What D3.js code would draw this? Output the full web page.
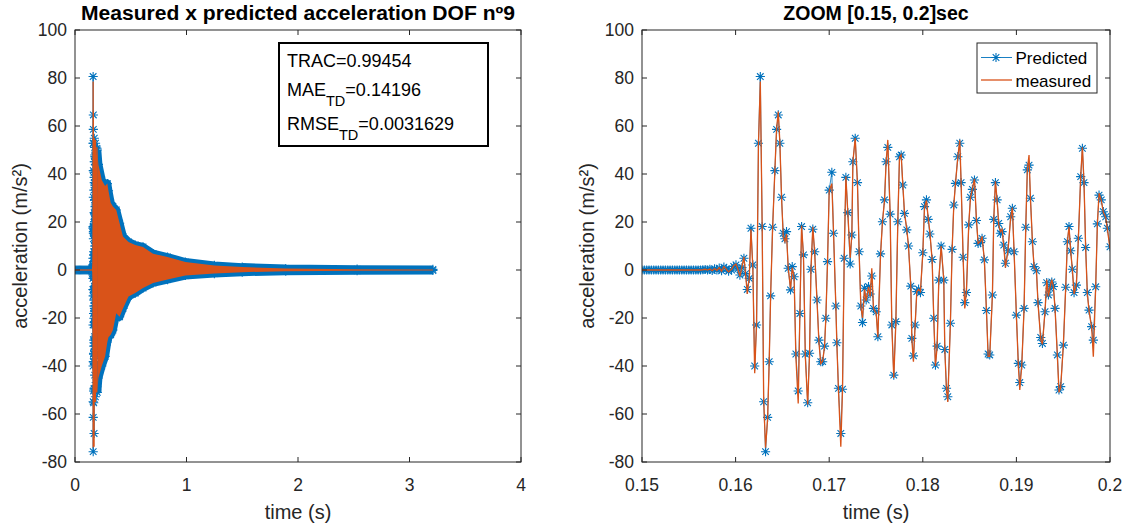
<!DOCTYPE html>
<html>
<head>
<meta charset="utf-8">
<script src="https://cdn.jsdelivr.net/npm/d3@7"></script>
<style>
body { margin: 0; background: #fff; }
text { font-family: "Liberation Sans", Arial, Helvetica, sans-serif; fill: #262626; }
</style>
</head>
<body>
<div id="chart"></div>
<script>
// zoom window samples, time in ms
const zoomTimeMs = [
  150.00,150.25,150.50,150.75,151.00,151.25,151.50,151.75,152.00,152.25,
  152.50,152.75,153.00,153.25,153.50,153.75,154.00,154.25,154.50,154.75,
  155.00,155.25,155.50,155.75,156.00,156.25,156.50,156.75,157.00,157.25,
  157.50,157.75,158.00,158.25,158.50,158.75,159.00,159.25,
  159.57,159.80,160.04,160.25,160.46,160.68,160.89,161.07,161.25,161.46,
  161.64,161.84,162.04,162.24,162.44,162.64,162.84,163.00,163.20,163.42,
  163.59,163.74,163.95,164.20,164.38,164.56,164.73,164.91,165.09,165.27,
  165.44,165.62,165.87,166.05,166.25,166.44,166.69,166.87,167.05,167.25,
  167.45,167.70,167.90,168.05,168.25,168.45,168.70,168.90,169.10,169.30,
  169.50,169.64,169.82,170.00,170.28,170.46,170.71,170.82,170.99,171.24,
  171.42,171.60,171.78,171.99,172.24,172.42,172.53,172.78,173.02,173.20,
  173.38,173.56,173.77,173.95,174.20,174.38,174.55,174.73,175.02,175.20,
  175.48,175.69,175.91,176.08,176.26,176.51,176.69,176.90,177.12,177.33,
  177.51,177.69,177.86,178.04,178.29,178.47,178.72,178.83,179.00,179.18,
  179.36,179.55,179.75,180.00,180.18,180.39,180.57,180.75,181.00,181.17,
  181.35,181.53,181.71,181.96,182.24,182.35,182.53,182.67,182.95,183.13,
  183.31,183.49,183.74,183.95,184.09,184.31,184.48,184.66,184.91,185.09,
  185.30,185.52,185.73,185.91,186.16,186.33,186.58,186.80,186.98,187.15,
  187.44,187.58,187.76,187.94,188.11,188.29,188.47,188.65,188.83,189.10,
  189.39,189.57,189.75,190.00,190.21,190.36,190.57,190.82,191.00,191.17,
  191.35,191.50,191.71,191.89,192.14,192.31,192.60,192.78,193.06,193.24,
  193.42,193.60,193.78,193.95,194.13,194.38,194.55,194.73,195.02,195.27,
  195.45,195.62,195.80,195.98,196.16,196.41,196.62,196.87,197.05,197.22,
  197.40,197.58,197.76,198.04,198.22,198.47,198.65,198.83,199.07,199.29,
  199.54,199.72,200.00
];

const zoomPredicted = [
  0,0,0,0,0,0,0,0,0,0,
  0,0,0,0,0,0,0,0,0,0,
  0,0,0,0,0,0,0.1,0.2,0,0.3,
  -0.2,0.5,0,0.8,-0.3,1.2,0.5,-0.5,
  0.0,1.5,2.1,0.5,-2.1,1.0,4.9,-1.5,-8.1,-3.5,
  17.4,2.1,-40,-22.9,52.8,80.6,18.1,-54.9,-75.7,-61.4,
  -38.2,-10.8,17.8,41.4,58.6,64.6,52.8,30.3,15.3,13,
  16,0.7,-8.3,1.4,-2.8,-35,-50.4,-18.1,18.1,6.3,
  -35,-55.3,-34.7,0.3,17,7.6,-12.5,-29.2,-38.2,-38.2,
  -31.7,-20.1,3.5,33.3,40.7,15.3,-15,-30.3,-49.3,-68.1,
  -49.7,4.9,38.6,23.9,2.5,14.6,45.1,54.9,36.4,7.6,
  -15,-21.9,-7.6,-12.5,-6.9,-10,-2.5,-16,-17.4,-27.8,
  6.7,20.1,29.2,45.1,51.1,23.3,-22.9,-43.8,-21.5,20.1,
  47.2,47.9,35.4,23.6,16.7,10,-6.7,-28.5,-35.8,-22.9,
  -9,-8,-9.4,7.2,26.4,29.2,21.1,15,4.4,-20.1,
  -39.6,-31.7,-4.2,10,-4.2,-33.1,-49.3,-52.8,-22.2,8.6,
  27.1,36.1,47.2,52.8,36.4,5.3,-13.6,-9.4,18.8,30.3,
  33.6,37.5,20.6,11.1,11.4,13.2,4.2,-16.9,-35,-35.4,
  -10.4,21.1,36.4,29.2,19.4,15.3,16,10.4,2.8,8,
  22.2,25.7,7.6,-18.8,-38.9,-46.9,-39.6,-16,17.8,41.7,
  43.7,29.9,11.8,1.4,-0.3,-13.6,-28.1,-30.6,-17.4,-5.3,
  -10.4,-7.6,-5,-6.9,-16,-35.4,-50,-48.6,-31.3,-7.2,
  11.8,18.1,8,0.3,-9.4,-6.3,13.2,38.9,50.7,36.4,
  9.4,-9.4,-16.7,-23.6,-29.2,-7,19.2,31.2,29.2,24.3,
  22.2,17.4,9.7
];

const zoomMeasured = [
  0,0,0,0,0,0,0,0,0,0,
  0,0,0,0,0,0,0,0,0,0,
  0,0,0,0,0,0,0.1,0.3,0,0.4,
  -0.3,0.6,-0.2,1,-0.5,1.4,0.3,-0.8,
  0.3,1.8,2.5,0.2,-2.6,1.4,5.5,-2,-10,-3,
  17,1,-43,-22,52,78.5,18,-54,-74,-62,
  -38,-11,17,42,59,66,53,30,14,11.8,
  15,1,-8,1,-3,-36,-55.6,-18,18.5,6,
  -36,-56,-35,0,18,7,-13,-30,-39,-38,
  -32,-20,3,33,36,16,-15,-31,-50,-73.6,
  -50,4,39,24,5,15,45,55,36,7,
  -15,-20,-8,-13,-7,-11,0.7,-16,-18,-28,
  6,20,29,45,54.2,24,-23,-45,-22,20,
  47,48,36,24,17,10,-7,-29,-38.2,-23,
  -9,-8,-9,7,26,29,22,16,4,-20,
  -40,-32,-4,10,-4,-33,-50,-55,-22,8,
  27,36,47,54.2,37,5,-16,-9,19,30,
  34,38,21,11,12,14,4,-17,-36,-36,
  -10,21,37,29,19,16,17,10,1,8,
  22,26,8,-19,-40,-50,-40,-16,18,42,
  47.9,30,12,1,0,-14,-29,-31,-17,-4,
  -11,-7,-4,-7,-16,-36,-51,-49,-31,-7,
  12,18,8,0,-10,-6,13,39,51.1,37,
  9,-10,-17,-24,-36.1,-7,19,32,29,24,
  22,17,9
];

// full record: flat part before the hit (s)
const leftPreTime = [0,0.01,0.02,0.03,0.04,0.05,0.06,0.07,0.08,0.09,0.10,0.11,0.12,0.13,0.14];
const leftPreAccel = [0,0,0,0,0,0,0,0,0,0,0,0,0,0,0];

// full record: peak envelope of the decay after 0.2 s
const envTime  = [0.20,0.21,0.24,0.27,0.29,0.30,0.32,0.34,0.37,0.40,0.43,0.48,0.54,0.61,0.70,0.83,0.99,1.25,1.50,1.89,2.53,3.21];
const envUpper = [50,44,37.5,35,36,33,28,26.5,25,19.5,14,11.7,10.4,9.6,6.8,5.4,3.3,1.9,1.2,0.6,0.35,0.25];
const envLower = [-51,-45,-40,-36,-30,-28,-27,-25,-18,-19.5,-16,-11,-9.6,-7.5,-5.4,-4,-2.3,-1.5,-0.9,-0.5,-0.3,-0.2];

const yTicks = [-80,-60,-40,-20,0,20,40,60,80,100];
const leftXTicks = [0,1,2,3,4];
const zoomXTicks = [0.15,0.16,0.17,0.18,0.19,0.2];

const statNames = ["TRAC","MAE","RMSE"];
const statSubs = ["","TD","TD"];
const statValues = ["0.99454","0.14196","0.0031629"];

const legendLabels = ["Predicted","measured"];

const blue = "#0072BD", orange = "#D95319", axisColor = "#262626";

const svg = d3.select("#chart").append("svg")
  .attr("width", 1132).attr("height", 528);

const yScaleL = d3.scaleLinear().domain([-80,100]).range([462,30]);
const xScaleL = d3.scaleLinear().domain([0,4]).range([75,521]);
const yScaleR = d3.scaleLinear().domain([-80,100]).range([462,30]);
const xScaleR = d3.scaleLinear().domain([0.15,0.2]).range([642,1110]);

const starPath = "M-4.6,0H4.6M0,-4.6V4.6M-3.3,-3.3L3.3,3.3M-3.3,3.3L3.3,-3.3";

const zoomData = zoomTimeMs.map(function(t, i){
  return { t: t / 1000, p: zoomPredicted[i], m: zoomMeasured[i] };
});
const preData = leftPreTime.map(function(t, i){ return { t: t, p: leftPreAccel[i] }; });
const envData = envTime.map(function(t, i){ return { t: t, up: envUpper[i], lo: envLower[i] }; });

function clip(id, x, y) {
  svg.append("clipPath").attr("id", id).append("rect")
    .attr("x", x.range()[0]).attr("y", y.range()[1])
    .attr("width", x.range()[1] - x.range()[0])
    .attr("height", y.range()[0] - y.range()[1]);
}
clip("clipL", xScaleL, yScaleL);
clip("clipR", xScaleR, yScaleR);

function stars(g, data, x, y, key) {
  g.selectAll(null).data(data).enter().append("path")
    .attr("d", starPath)
    .attr("transform", function(d){ return "translate(" + x(d.t) + "," + y(d[key]) + ")"; })
    .attr("fill", "none").attr("stroke", blue).attr("stroke-width", 1.1);
}

function drawAxes(x, y, xTicks, xFmt, title, titleLen, yLabelX) {
  const g = svg.append("g");
  const x0 = x.range()[0], x1 = x.range()[1], y0 = y.range()[0], y1 = y.range()[1];
  const tl = 5;

  xTicks.forEach(function(v){
    g.append("line").attr("x1", x(v)).attr("x2", x(v)).attr("y1", y0).attr("y2", y0 - tl)
      .attr("stroke", axisColor);
    g.append("line").attr("x1", x(v)).attr("x2", x(v)).attr("y1", y1).attr("y2", y1 + tl)
      .attr("stroke", axisColor);
    g.append("text").attr("x", x(v)).attr("y", y0 + 29)
      .attr("text-anchor", "middle").attr("font-size", "17.5px").text(xFmt(v));
  });
  yTicks.forEach(function(v){
    g.append("line").attr("x1", x0).attr("x2", x0 + tl).attr("y1", y(v)).attr("y2", y(v))
      .attr("stroke", axisColor);
    g.append("line").attr("x1", x1).attr("x2", x1 - tl).attr("y1", y(v)).attr("y2", y(v))
      .attr("stroke", axisColor);
    g.append("text").attr("x", x0 - 8).attr("y", y(v) + 6)
      .attr("text-anchor", "end").attr("font-size", "17.5px").text(v);
  });
  g.append("rect").attr("x", x0).attr("y", y1).attr("width", x1 - x0).attr("height", y0 - y1)
    .attr("fill", "none").attr("stroke", axisColor).attr("stroke-width", 1);

  g.append("text").attr("x", (x0 + x1) / 2).attr("y", 519)
    .attr("text-anchor", "middle").attr("font-size", "20px").text("time (s)");
  g.append("text")
    .attr("transform", "translate(" + yLabelX + "," + ((y0 + y1) / 2) + ") rotate(-90)")
    .attr("text-anchor", "middle").attr("font-size", "20px").text("acceleration (m/s²)");
  const tt = g.append("text").attr("x", (x0 + x1) / 2).attr("y", 20)
    .attr("text-anchor", "middle").attr("font-size", "19.5px").attr("font-weight", "bold")
    .style("fill", "#000").text(title);
  if (titleLen) tt.attr("textLength", titleLen).attr("lengthAdjust", "spacingAndGlyphs");
}

// ---------- left: full record ----------
const gL = svg.append("g").attr("clip-path", "url(#clipL)");

const lineL = d3.line().x(function(d){ return xScaleL(d.t); }).y(function(d){ return yScaleL(d.p); });
const preLine = preData.concat([{ t: zoomData[0].t, p: 0 }]);

gL.append("path").datum(preLine).attr("d", lineL)
  .attr("fill", "none").attr("stroke", blue).attr("stroke-width", 7);
stars(gL, preData, xScaleL, yScaleL, "p");

["up","lo"].forEach(function(k){
  gL.append("path").datum(envData)
    .attr("d", d3.line().x(function(d){ return xScaleL(d.t); }).y(function(d){ return yScaleL(d[k]); }))
    .attr("fill", "none").attr("stroke", blue).attr("stroke-width", 8).attr("stroke-linejoin", "round");
  stars(gL, envData, xScaleL, yScaleL, k);
});

gL.append("path").datum(zoomData).attr("d", lineL)
  .attr("fill", "none").attr("stroke", blue).attr("stroke-width", 0.8);
stars(gL, zoomData, xScaleL, yScaleL, "p");

gL.append("path").datum(envData)
  .attr("d", d3.area().x(function(d){ return xScaleL(d.t); })
    .y0(function(d){ return yScaleL(d.lo); }).y1(function(d){ return yScaleL(d.up); }))
  .attr("fill", orange);

gL.append("path").datum(preLine).attr("d", lineL)
  .attr("fill", "none").attr("stroke", orange).attr("stroke-width", 1.3);
gL.append("path").datum(zoomData)
  .attr("d", d3.line().x(function(d){ return xScaleL(d.t); }).y(function(d){ return yScaleL(d.m); }))
  .attr("fill", "none").attr("stroke", orange).attr("stroke-width", 1.3);

drawAxes(xScaleL, yScaleL, leftXTicks, d3.format("d"),
  "Measured x predicted acceleration DOF nº9", 434, 27);

// stats box
const box = svg.append("g");
box.append("rect").attr("x", 279).attr("y", 43).attr("width", 209).attr("height", 103)
  .attr("fill", "#fff").attr("stroke", "#000").attr("stroke-width", 2);
const statBase = [67, 96, 130];
statNames.forEach(function(n, i){
  const t = box.append("text").attr("x", 287).attr("y", statBase[i])
    .attr("font-size", "18px").style("fill", "#000");
  t.append("tspan").text(n);
  if (statSubs[i]) {
    t.append("tspan").attr("dy", 10).attr("font-size", "14.5px").text(statSubs[i]);
    t.append("tspan").attr("dy", -10).text("=" + statValues[i]);
  } else {
    t.append("tspan").text("=" + statValues[i]);
  }
});

// ---------- right: zoom ----------
const gR = svg.append("g").attr("clip-path", "url(#clipR)");
gR.append("path").datum(zoomData)
  .attr("d", d3.line().x(function(d){ return xScaleR(d.t); }).y(function(d){ return yScaleR(d.p); }))
  .attr("fill", "none").attr("stroke", blue).attr("stroke-width", 0.8);
stars(gR, zoomData, xScaleR, yScaleR, "p");
gR.append("path").datum(zoomData)
  .attr("d", d3.line().x(function(d){ return xScaleR(d.t); }).y(function(d){ return yScaleR(d.m); }))
  .attr("fill", "none").attr("stroke", orange).attr("stroke-width", 1.3);

drawAxes(xScaleR, yScaleR, zoomXTicks, function(v){ return String(+v.toFixed(2)); },
  "ZOOM [0.15, 0.2]sec", 0, 594);

// legend
const leg = svg.append("g");
leg.append("rect").attr("x", 977).attr("y", 43).attr("width", 120).attr("height", 50)
  .attr("fill", "#fff").attr("stroke", axisColor).attr("stroke-width", 1);
legendLabels.forEach(function(lbl, i){
  const yy = 57.5 + i * 22.5;
  leg.append("line").attr("x1", 981).attr("x2", 1012).attr("y1", yy).attr("y2", yy)
    .attr("stroke", i === 0 ? blue : orange).attr("stroke-width", i === 0 ? 0.9 : 1.3);
  if (i === 0) {
    leg.append("path").attr("d", starPath).attr("transform", "translate(996," + yy + ")")
      .attr("fill", "none").attr("stroke", blue).attr("stroke-width", 1.1);
  }
  leg.append("text").attr("x", 1015.5).attr("y", yy + 6.5).attr("font-size", "17px")
    .style("fill", "#000").text(lbl);
});
</script>
</body>
</html>
